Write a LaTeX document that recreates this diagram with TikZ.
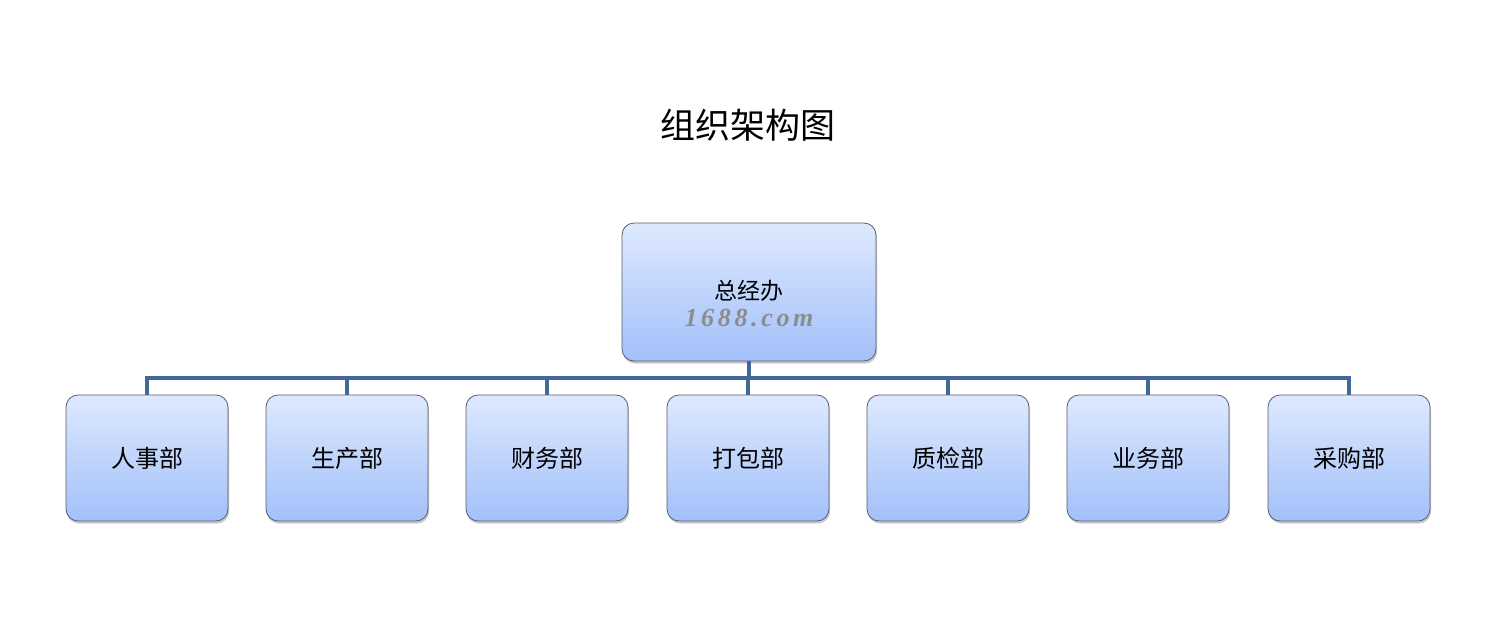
\documentclass[tikz,border=0pt]{standalone}
\usepackage{fontspec}
\newfontfamily\cjk{Noto Sans CJK SC}
\newfontfamily\wmfont[LetterSpace=14]{Liberation Serif}
\usetikzlibrary{shadows}
\definecolor{boxtop}{RGB}{222,233,254}
\definecolor{boxbot}{RGB}{162,192,250}
\definecolor{boxline}{RGB}{90,92,105}
\definecolor{linkc}{RGB}{66,104,154}
\tikzset{
  orgbox/.style={draw=boxline, line width=0.8pt, rounded corners=12pt,
    top color=boxtop, bottom color=boxbot, inner sep=0pt,
    drop shadow={opacity=0.35, shadow xshift=1pt, shadow yshift=-2.5pt, fill=black!60}},
  topbox/.style={orgbox, minimum width=254pt, minimum height=138pt},
  deptbox/.style={orgbox, minimum width=162pt, minimum height=126pt,
    font=\cjk\fontsize{24}{28}\selectfont},
  link/.style={draw=linkc, line width=3.8pt},
}
\begin{document}
\begin{tikzpicture}[x=1pt, y=-1pt]
\useasboundingbox (0,0) rectangle (1492,630);
\fill[white] (0,0) rectangle (1492,630);
\node[font=\cjk\fontsize{35}{40}\selectfont] (title) at (748,125) {组织架构图};
\node[topbox] (top) at (749,292) {};
\node[font=\cjk\fontsize{23}{28}\selectfont] (toptext) at (749,291) {总经办};
\node[font=\wmfont\fontsize{26}{28}\selectfont\bfseries\itshape, text=black!45] (wm) at (749,318) {1688.com};
\node[deptbox] (d1) at (147,458) {人事部};
\node[deptbox] (d2) at (347,458) {生产部};
\node[deptbox] (d3) at (547,458) {财务部};
\node[deptbox] (d4) at (748,458) {打包部};
\node[deptbox] (d5) at (948,458) {质检部};
\node[deptbox] (d6) at (1148,458) {业务部};
\node[deptbox] (d7) at (1349,458) {采购部};
\coordinate (bar) at (749,378);
\path[link] (top.south) -- (top.south |- bar);
\path[link] ([xshift=-1.9pt]d1.north |- bar) -- ([xshift=1.9pt]d7.north |- bar);
\foreach \i in {1,...,7} {
  \path[link] (d\i.north |- bar) -- (d\i.north);
}
\end{tikzpicture}
\end{document}
